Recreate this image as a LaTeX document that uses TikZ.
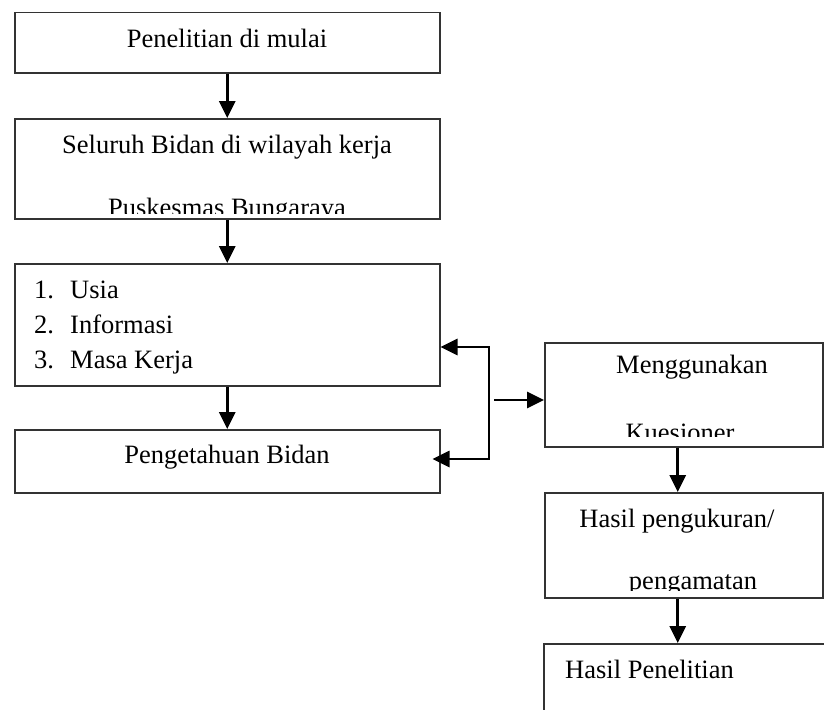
\documentclass[tikz,border=0pt]{standalone}
\usepackage{fontspec}
\setmainfont{Liberation Serif}
\usetikzlibrary{arrows.meta}
\begin{document}
\begin{tikzpicture}[x=1pt,y=-1pt,
  box/.style={draw=black!80, line width=1.5pt, inner sep=0pt, anchor=north west},
  lbl/.style={inner sep=0pt, anchor=base, font=\fontsize{26.5}{30}\selectfont},
  arr/.style={line width=2.7pt, -{Triangle[length=17pt,width=16pt]}},
  darr/.style={line width=2.7pt, line join=miter, {Triangle[length=17pt,width=16pt]}-{Triangle[length=17pt,width=16pt]}}]
\clip (0,0) rectangle (824,709);
\fill[white] (0,0) rectangle (824,709);

% left column boxes
\node[box, minimum width=425pt, minimum height=60pt] (b1) at (14,12) {};
\node[box, minimum width=425pt, minimum height=100pt] (b2) at (14,118) {};
\node[box, minimum width=425pt, minimum height=122pt] (b3) at (14,263) {};
\node[box, minimum width=425pt, minimum height=63pt] (b4) at (14,429) {};

% right column boxes
\node[box, minimum width=278pt, minimum height=104pt] (b5) at (544,342) {};
\node[box, minimum width=278pt, minimum height=105pt] (b6) at (544,492) {};
\node[box, minimum width=300pt, minimum height=100pt] (b7) at (543,643) {};

% texts
\node[lbl] (t1) at (227,48) {Penelitian di mulai};
\node[lbl] (t2a) at (227,153) {Seluruh Bidan di wilayah kerja};
\begin{scope}
  \clip (14,118) rectangle (440,213);
  \node[lbl] (t2b) at (227,216) {Puskesmas Bungaraya};
\end{scope}
\node[lbl, anchor=base west] (n1) at (34,298) {1.};
\node[lbl, anchor=base west] (i1) at (70,298) {Usia};
\node[lbl, anchor=base west] (n2) at (34,333) {2.};
\node[lbl, anchor=base west] (i2) at (70,333) {Informasi};
\node[lbl, anchor=base west] (n3) at (34,368) {3.};
\node[lbl, anchor=base west] (i3) at (70,368) {Masa Kerja};
\node[lbl] (t4) at (227,463) {Pengetahuan Bidan};

\node[lbl] (t5a) at (692,373) {Menggunakan};
\begin{scope}
  \clip (544,342) rectangle (822,436);
  \node[lbl] (t5b) at (680,441) {Kuesioner};
\end{scope}
\node[lbl] (t6a) at (677,527) {Hasil pengukuran/};
\begin{scope}
  \clip (544,492) rectangle (822,590);
  \node[lbl] (t6b) at (693,589) {pengamatan};
\end{scope}
\node[lbl, anchor=base west] (t7) at (565,678) {Hasil Penelitian};

% vertical arrows, left
\draw[arr] (b1.south) -- (b2.north);
\draw[arr] (b2.south) -- (b3.north);
\draw[arr] (b3.south) -- (b4.north);

% bracket
\coordinate (bt) at (489,347);
\coordinate (bb) at (489,459);
\coordinate (mm) at (494,400);
\draw[darr] ([xshift=-8pt]bb -| b4.east) -- (bb) -- (bt) -- (bt -| b3.east);
\draw[arr] (mm) -- (mm -| b5.west);

% vertical arrows, right
\draw[arr] ([xshift=-6pt]b5.south) -- ([xshift=-6pt]b6.north);
\draw[arr] ([xshift=-6pt]b6.south) -- ([xshift=-6pt]b6.south |- b7.north);
\end{tikzpicture}
\end{document}
